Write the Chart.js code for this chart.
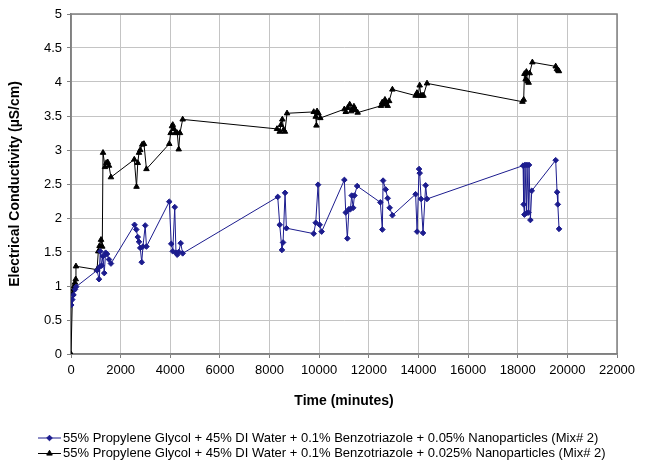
<!DOCTYPE html>
<html>
<head>
<meta charset="utf-8">
<script src="https://cdn.jsdelivr.net/npm/chart.js@4/dist/chart.umd.min.js"></script>
<style>
  html, body { margin: 0; padding: 0; background: #fff; }
  #wrap { width: 654px; height: 468px; }
</style>
</head>
<body>
<div id="wrap"><canvas id="cond" width="654" height="468"></canvas></div>
<script>
// time (minutes) and conductivity (uS/cm)
const mix005Time = [
  10, 50, 100, 160, 210,
  1050, 1130, 1150, 1180, 1230, 1290, 1340, 1395, 1450, 1530, 1610,
  2560, 2630, 2690, 2740, 2790, 2850, 2900, 2990, 3040,
  3960, 4040, 4100, 4180, 4230, 4280, 4340, 4420, 4500,
  8330, 8410, 8500, 8545, 8625, 8680,
  9780, 9860, 9955, 10020, 10100,
  11015, 11070, 11135, 11200, 11260, 11310, 11370, 11420, 11530,
  12465, 12545, 12575, 12680, 12760, 12840, 12950,
  13885, 13945, 14025, 14050, 14105, 14185, 14290, 14345,
  18215, 18240, 18270, 18295, 18350, 18375, 18430, 18455, 18510, 18565,
  19530, 19585, 19615, 19665
];
const mix005Cond = [
  0.72, 0.80, 0.87, 0.95, 0.99,
  1.23, 1.10, 1.28, 1.51, 1.30, 1.44, 1.19, 1.49, 1.47, 1.39, 1.33,
  1.90, 1.83, 1.72, 1.65, 1.56, 1.35, 1.58, 1.89, 1.58,
  2.24, 1.62, 1.51, 2.16, 1.49, 1.46, 1.50, 1.63, 1.48,
  2.31, 1.90, 1.53, 1.64, 2.37, 1.85,
  1.77, 1.93, 2.49, 1.90, 1.80,
  2.56, 2.08, 1.70, 2.13, 2.13, 2.33, 2.15, 2.33, 2.47,
  2.23, 1.83, 2.55, 2.42, 2.29, 2.15, 2.04,
  2.35, 1.80, 2.72, 2.66, 2.28, 1.78, 2.48, 2.28,
  2.77, 2.20, 2.05, 2.78, 2.07, 2.78, 2.08, 2.78, 1.97, 2.40,
  2.85, 2.38, 2.20, 1.84
];

const mix0025Time = [
  0, 60, 100, 130, 160, 190, 200,
  1050, 1100, 1150, 1210, 1260, 1290, 1370, 1420, 1480, 1530, 1610,
  2550, 2640, 2690, 2740, 2790, 2870, 2940, 3040,
  3960, 4015, 4070, 4100, 4150, 4200, 4280, 4340, 4390, 4500,
  8300, 8410, 8460, 8515, 8570, 8620, 8705,
  9780, 9860, 9890, 9915, 9970, 10045,
  11015, 11070, 11150, 11230, 11290, 11340, 11400, 11460, 11550,
  12490, 12540, 12600, 12650, 12700, 12760, 12820, 12950,
  13885, 13940, 13990, 14050, 14100, 14150, 14200, 14345,
  18190, 18240, 18270, 18320, 18350, 18400, 18440, 18480, 18590,
  19530, 19580, 19630, 19660
];
const mix0025Cond = [
  0, 0.88, 0.95, 1.00, 1.05, 1.10, 1.29,
  1.24, 1.51, 1.59, 1.68, 1.58, 2.96, 2.75, 2.81, 2.82, 2.77, 2.60,
  2.86, 2.46, 2.81, 2.96, 3.00, 3.08, 3.09, 2.72,
  3.09, 3.25, 3.35, 3.37, 3.31, 3.25, 3.25, 3.01, 3.25, 3.45,
  3.31, 3.27, 3.37, 3.45, 3.30, 3.27, 3.54,
  3.56, 3.49, 3.36, 3.57, 3.54, 3.47,
  3.60, 3.56, 3.62, 3.67, 3.57, 3.59, 3.64, 3.59, 3.55,
  3.65, 3.70, 3.67, 3.74, 3.70, 3.65, 3.72, 3.89,
  3.80, 3.84, 3.80, 3.95, 3.80, 3.80, 3.80, 3.98,
  3.71, 3.74, 4.12, 4.04, 4.15, 4.01, 3.99, 4.13, 4.29,
  4.23, 4.19, 4.17, 4.16
];

const seriesNames = [
  '55% Propylene Glycol + 45% DI Water + 0.1% Benzotriazole + 0.05% Nanoparticles (Mix# 2)',
  '55% Propylene Glycol + 45% DI Water + 0.1% Benzotriazole + 0.025% Nanoparticles (Mix# 2)'
];
const xTicks = [0, 2000, 4000, 6000, 8000, 10000, 12000, 14000, 16000, 18000, 20000, 22000];
const yTicks = [0, 0.5, 1, 1.5, 2, 2.5, 3, 3.5, 4, 4.5, 5];

const FONT = "'Liberation Sans', Arial, sans-serif";
const toPoints = (xs, ys) => xs.map((x, i) => ({ x: x, y: ys[i] }));

// plot frame (top and right edges too, like the excel chart)
const framePlugin = {
  id: 'plotFrame',
  beforeDatasetsDraw: (chart) => {
    const { ctx, chartArea: a } = chart;
    ctx.save();
    ctx.strokeStyle = '#808080';
    ctx.lineWidth = 1.5;
    ctx.strokeRect(a.left, a.top, a.right - a.left, a.bottom - a.top);
    ctx.restore();
  }
};

// legend drawn under the axis title: line + marker + label
const legendPlugin = {
  id: 'lineLegend',
  afterDraw: (chart) => {
    const { ctx } = chart;
    ctx.save();
    chart.data.datasets.forEach((ds, i) => {
      const y = 438 + i * 15.5;
      ctx.strokeStyle = ds.borderColor;
      ctx.lineWidth = 1;
      ctx.beginPath();
      ctx.moveTo(38, y);
      ctx.lineTo(61, y);
      ctx.stroke();
      ctx.fillStyle = ds.pointBackgroundColor;
      ctx.strokeStyle = ds.pointBorderColor;
      Chart.helpers.drawPoint(ctx, {
        pointStyle: ds.pointStyle, radius: ds.pointRadius, borderWidth: 1, rotation: 0
      }, 49.5, y);
      ctx.fillStyle = '#000';
      ctx.font = '13px ' + FONT;
      ctx.textBaseline = 'middle';
      ctx.fillText(ds.label, 63, y);
    });
    ctx.restore();
  }
};

const ctx = document.getElementById('cond').getContext('2d');
new Chart(ctx, {
  type: 'line',
  data: {
    datasets: [{
      label: seriesNames[0],
      data: toPoints(mix005Time, mix005Cond),
      borderColor: '#1c1c8e',
      borderWidth: 1,
      pointStyle: 'rectRot',
      pointRadius: 2.8,
      pointBackgroundColor: '#1c1c8e',
      pointBorderColor: '#1c1c8e',
      tension: 0
    }, {
      label: seriesNames[1],
      data: toPoints(mix0025Time, mix0025Cond),
      borderColor: '#000000',
      borderWidth: 1,
      pointStyle: 'triangle',
      pointRadius: 3.2,
      pointBackgroundColor: '#000000',
      pointBorderColor: '#000000',
      tension: 0
    }]
  },
  options: {
    responsive: false,
    animation: false,
    layout: { padding: { top: 14, right: 37, bottom: 50, left: 4 } },
    plugins: {
      legend: { display: false },
      tooltip: { enabled: false }
    },
    scales: {
      x: {
        type: 'linear',
        min: 0,
        max: 22000,
        afterBuildTicks: (s) => { s.ticks = xTicks.map(v => ({ value: v })); },
        afterFit: (s) => { s.height = 64; },
        ticks: {
          color: '#000',
          font: { family: FONT, size: 13 },
          padding: 5,
          maxRotation: 0,
          autoSkip: false,
          callback: (v) => String(v)
        },
        grid: { color: '#c4c4c4', lineWidth: 1, tickLength: 4, tickColor: '#808080' },
        border: { color: '#808080', width: 1.5 },
        title: {
          display: true,
          text: 'Time (minutes)',
          color: '#000',
          font: { family: FONT, size: 14, weight: 'bold' },
          padding: { top: 4, bottom: 8 }
        }
      },
      y: {
        type: 'linear',
        min: 0,
        max: 5,
        afterBuildTicks: (s) => { s.ticks = yTicks.map(v => ({ value: v })); },
        afterFit: (s) => { s.width = 67; },
        ticks: {
          color: '#000',
          font: { family: FONT, size: 13 },
          padding: 5,
          callback: (v) => String(v)
        },
        grid: { color: '#c4c4c4', lineWidth: 1, tickLength: 4, tickColor: '#808080' },
        border: { color: '#808080', width: 1.5 },
        title: {
          display: true,
          text: 'Electrical Conductivity (µS/cm)',
          color: '#000',
          font: { family: FONT, size: 14, weight: 'bold' },
          padding: { top: 3, bottom: 4 }
        }
      }
    }
  },
  plugins: [framePlugin, legendPlugin]
});
</script>
</body>
</html>
